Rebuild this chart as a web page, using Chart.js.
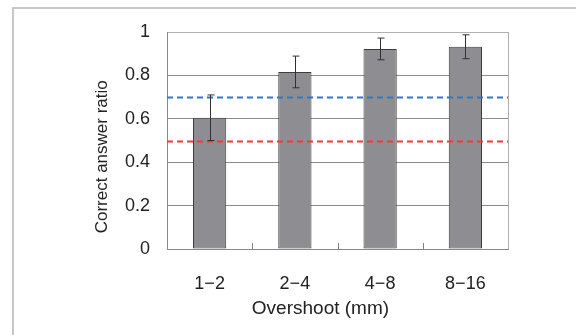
<!DOCTYPE html>
<html>
<head>
<meta charset="utf-8">
<script src="https://cdn.jsdelivr.net/npm/chart.js@4"></script>
<style>
    body { margin: 0; background: #fff; }
    #wrap { width: 576px; height: 335px; position: relative; }
</style>
</head>
<body>
<div id="wrap"><canvas id="ratioChart" width="576" height="335"></canvas></div>
<script>
// data
const categories = ['1\u22122', '2\u22124', '4\u22128', '8\u221216'];
const ratios = [0.605, 0.816, 0.922, 0.932];
const errors = [0.105, 0.073, 0.05, 0.055];
const yTicks = [0, 0.2, 0.4, 0.6, 0.8, 1];
const refLevels = [0.7, 0.5];
const refColors = ['#2f78c4', '#f03a3a'];

const fontFamily = '"Liberation Sans", Arial, sans-serif';

// frame, reference lines, error bars, inner x ticks and axis titles
const extras = {
    id: 'extras',
    beforeDraw(chart) {
        const ctx = chart.ctx;
        ctx.save();
        ctx.fillStyle = '#fff';
        ctx.fillRect(0, 0, chart.width, chart.height);
        ctx.strokeStyle = '#c8c8cc';
        ctx.lineWidth = 2;
        ctx.beginPath();
        ctx.moveTo(13, chart.height);
        ctx.lineTo(13, 8);
        ctx.lineTo(chart.width, 8);
        ctx.stroke();
        ctx.restore();
    },
    afterDatasetsDraw(chart) {
        const ctx = chart.ctx;
        const area = chart.chartArea;
        const x = chart.scales.x;
        const y = chart.scales.y;
        ctx.save();

        // dashed reference levels
        ctx.lineWidth = 2;
        ctx.setLineDash([6, 4]);
        refLevels.forEach((lvl, i) => {
            const py = Math.round(y.getPixelForValue(lvl)) + 0.5;
            ctx.strokeStyle = refColors[i];
            ctx.beginPath();
            ctx.moveTo(area.left, py);
            ctx.lineTo(area.right, py);
            ctx.stroke();
        });
        ctx.setLineDash([]);

        // error bars
        ctx.strokeStyle = '#303030';
        ctx.lineWidth = 1;
        chart.getDatasetMeta(0).data.forEach((bar, i) => {
            const cx = Math.round(bar.x) + 0.5;
            const top = y.getPixelForValue(ratios[i] + errors[i]);
            const bot = y.getPixelForValue(ratios[i] - errors[i]);
            ctx.beginPath();
            ctx.moveTo(cx, top);
            ctx.lineTo(cx, bot);
            ctx.moveTo(cx - 3, top);
            ctx.lineTo(cx + 4, top);
            ctx.moveTo(cx - 3, bot);
            ctx.lineTo(cx + 4, bot);
            ctx.stroke();
        });

        // small inward ticks between categories
        ctx.strokeStyle = '#808080';
        for (let i = 1; i < categories.length; i++) {
            const px = Math.round((x.getPixelForTick(i - 1) + x.getPixelForTick(i)) / 2) + 0.5;
            ctx.beginPath();
            ctx.moveTo(px, area.bottom);
            ctx.lineTo(px, area.bottom - 6);
            ctx.stroke();
        }

        // axis titles
        ctx.fillStyle = '#222';
        ctx.textAlign = 'center';
        ctx.textBaseline = 'middle';
        ctx.font = '19px ' + fontFamily;
        ctx.fillText('Overshoot (mm)', area.left + (area.right - area.left) * 0.45, 309);
        ctx.font = '17px ' + fontFamily;
        ctx.translate(102, area.top + (area.bottom - area.top) * 0.575);
        ctx.rotate(-Math.PI / 2);
        ctx.fillText('Correct answer ratio', 0, 0);
        ctx.restore();
    }
};

const ctx = document.getElementById('ratioChart').getContext('2d');
new Chart(ctx, {
    type: 'bar',
    data: {
        labels: categories,
        datasets: [{
            data: ratios,
            backgroundColor: '#8e8e92',
            borderColor: '#3c3c3c',
            borderWidth: 1,
            borderSkipped: false,
            categoryPercentage: 1,
            barPercentage: 0.39
        }]
    },
    options: {
        responsive: false,
        animation: false,
        events: [],
        layout: { padding: { left: 0, top: 32, right: 68, bottom: 0 } },
        plugins: {
            legend: { display: false },
            tooltip: { enabled: false }
        },
        scales: {
            x: {
                afterFit(scale) { scale.height = 86; },
                grid: { display: false },
                border: { display: true, color: '#888', width: 1 },
                ticks: {
                    color: '#222',
                    padding: 16,
                    font: { family: fontFamily, size: 18 }
                }
            },
            y: {
                min: 0,
                max: 1,
                afterFit(scale) { scale.width = 167; },
                afterBuildTicks(scale) { scale.ticks = yTicks.map(v => ({ value: v })); },
                grid: {
                    drawTicks: false,
                    color: ctx => (ctx.tick && ctx.tick.value === 1 ? '#b0b0b0' : '#8c8c8c'),
                    lineWidth: 1
                },
                border: { display: true, color: '#888', width: 1 },
                ticks: {
                    color: '#222',
                    padding: 17,
                    font: { family: fontFamily, size: 18 },
                    callback: v => String(v)
                }
            }
        }
    },
    plugins: [extras, {
        id: 'rightEdge',
        afterDraw(chart) {
            const a = chart.chartArea;
            const c = chart.ctx;
            c.save();
            c.strokeStyle = '#b0b0b0';
            c.lineWidth = 1;
            c.beginPath();
            c.moveTo(Math.round(a.right) + 0.5, a.top);
            c.lineTo(Math.round(a.right) + 0.5, a.bottom);
            c.stroke();
            c.restore();
        }
    }]
});
</script>
</body>
</html>
